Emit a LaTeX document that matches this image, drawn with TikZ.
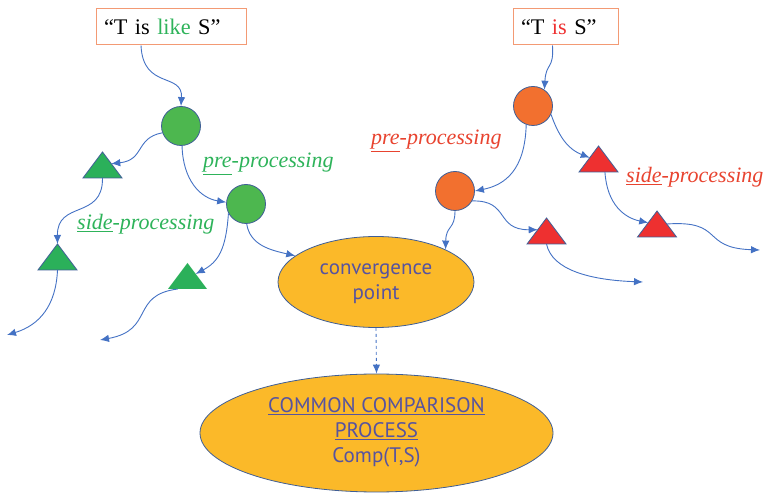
\documentclass[tikz,border=0pt]{standalone}
\usepackage{fontspec}
\setmainfont{Liberation Serif}
\newfontfamily\ellsans{PT Sans}
\usetikzlibrary{arrows.meta,shapes.geometric,calc}
\definecolor{connblue}{HTML}{4472C4}
\definecolor{outl}{HTML}{3F5E96}
\definecolor{boxorange}{HTML}{F39A74}
\definecolor{gcircle}{HTML}{4DB74F}
\definecolor{gtri}{HTML}{2BB05A}
\definecolor{ocircle}{HTML}{F2702F}
\definecolor{rtri}{HTML}{EE3030}
\definecolor{ellfill}{HTML}{FBB929}
\definecolor{elltext}{HTML}{57539F}
\definecolor{lblgreen}{HTML}{2EB35A}
\definecolor{lblred}{HTML}{E8432F}
\tikzset{
  quotebox/.style={draw=boxorange, line width=1pt, inner xsep=8pt, inner ysep=0pt, minimum height=36pt,
    align=left, font=\fontsize{22.3}{26}\selectfont},
  gcirc/.style={circle, draw=outl, line width=0.8pt, fill=gcircle, minimum size=39pt, inner sep=0pt},
  ocirc/.style={circle, draw=outl, line width=0.8pt, fill=ocircle, minimum size=39pt, inner sep=0pt},
  tri/.style={isosceles triangle, isosceles triangle stretches, shape border rotate=90,
    minimum width=39pt, minimum height=26pt, inner sep=0pt, outer sep=0pt, anchor=lower side},
  gtriangle/.style={tri, fill=gtri, draw=outl, line width=0.8pt},
  gtrianglenb/.style={tri, fill=gtri},
  rtriangle/.style={tri, fill=rtri, draw=outl, line width=0.8pt},
  bubble/.style={ellipse, draw=outl, line width=0.8pt, fill=ellfill, inner sep=0pt, text=elltext,
    font=\ellsans\fontsize{21}{25}\selectfont},
  conn/.style={draw=connblue, line width=0.9pt, -{Latex[length=9pt,width=7.5pt]}},
  lbl/.style={anchor=base west, inner sep=0pt, font=\itshape\fontsize{22}{24}\selectfont},
}
\begin{document}
\begin{tikzpicture}[x=1pt,y=-1pt]
\useasboundingbox (0,0) rectangle (764,494);
% boxes
\node[quotebox, text width=134pt] (b1) at (171,27) {``T is \textcolor{lblgreen}{like} S''};
\node[quotebox, text width=89pt] (b2) at (565.5,27) {``T \textcolor{rtri}{is} S''};
% circles
\node[gcirc] (g1) at (181,126) {};
\node[gcirc] (g2) at (246,204) {};
\node[ocirc] (o1) at (533,106) {};
\node[ocirc] (o2) at (455,191) {};
% triangles
\node[gtriangle] (gt1) at (102.5,178) {};
\node[gtriangle] (gt2) at (57.5,270) {};
\node[gtrianglenb] (gt3) at (187.5,289) {};
\node[rtriangle] (rt1) at (598.5,172) {};
\node[rtriangle] (rt2) at (657,237) {};
\node[rtriangle] (rt3) at (546.5,244) {};
% ellipses
\node[bubble, minimum width=196pt, minimum height=91pt] (conv) at (376,282)
  {\raisebox{-3pt}{\begin{tabular}{@{}c@{}}convergence\\point\end{tabular}}};
\node[bubble, minimum width=353pt, minimum height=118pt] (comm) at (376.5,433)
  {\raisebox{-4pt}{\begin{tabular}{@{}c@{}}\underline{COMMON COMPARISON}\\\underline{PROCESS}\\Comp(T,S)\end{tabular}}};
% labels
\node[lbl, text=lblgreen] (lgpre) at (203,168) {\underline{pre}-processing};
\node[lbl, text=lblgreen] (lgside) at (77,230) {\underline{side}-processing};
\node[lbl, text=lblred] (lrpre) at (371,145) {\underline{pre}-processing};
\node[lbl, text=lblred] (lrside) at (626,183) {\underline{side}-processing};
% free ends
\coordinate (f1) at (7,335);
\coordinate (f2) at (100,340);
\coordinate (f3) at (643,282);
\coordinate (f4) at (760,250);
% connectors, left
\draw[conn] ([xshift=-30pt]b1.south) .. controls (143,90) and (183,72) .. (g1.north);
\draw[conn] (g1.200) .. controls (135,138) and (145,160) .. ($(gt1.apex)!.45!(gt1.right corner)$);
\draw[conn] (g1.-87) .. controls (183,180) and (200,198) .. (g2.175);
\draw[conn] (gt1.lower side) .. controls (103,220) and (57,200) .. (gt2.apex);
\draw[conn] (gt2.lower side) .. controls (56,305) and (40,325) .. (f1);
\draw[conn] (g2.208) .. controls (226,250) and (218,262) .. ($(gt3.apex)!.42!(gt3.right corner)$);
\draw[conn] (g2.-88) .. controls (250,245) and (270,250) .. (conv.162);
\draw[conn] ($(gt3.left corner)!.5!(gt3.lower side)$) .. controls (130,295) and (155,330) .. (f2);
% connectors, right
\draw[conn] ([xshift=-13pt]b2.south) .. controls (554,70) and (546,62) .. (o1.55);
\draw[conn] (o1.250) .. controls (525,170) and (505,185) .. (o2.east);
\draw[conn] (o1.-25) .. controls (560,140) and (570,150) .. ($(rt1.apex)!.45!(rt1.left corner)$);
\draw[conn] ($(rt1.lower side)!.33!(rt1.right corner)$) .. controls (607,205) and (625,218) .. ($(rt2.apex)!.45!(rt2.left corner)$);
\draw[conn] ($(rt2.apex)!.5!(rt2.right corner)$) .. controls (725,220) and (700,248) .. (f4);
\draw[conn] (o2.south) .. controls (455,230) and (446,225) .. (conv.25);
\draw[conn] (o2.-30) .. controls (510,200) and (495,230) .. ($(rt3.apex)!.45!(rt3.left corner)$);
\draw[conn] (rt3.lower side) .. controls (552,270) and (590,280) .. (f3);
% dashed
\draw[conn, dashed] (conv.south) -- (comm.north);
\end{tikzpicture}
\end{document}
